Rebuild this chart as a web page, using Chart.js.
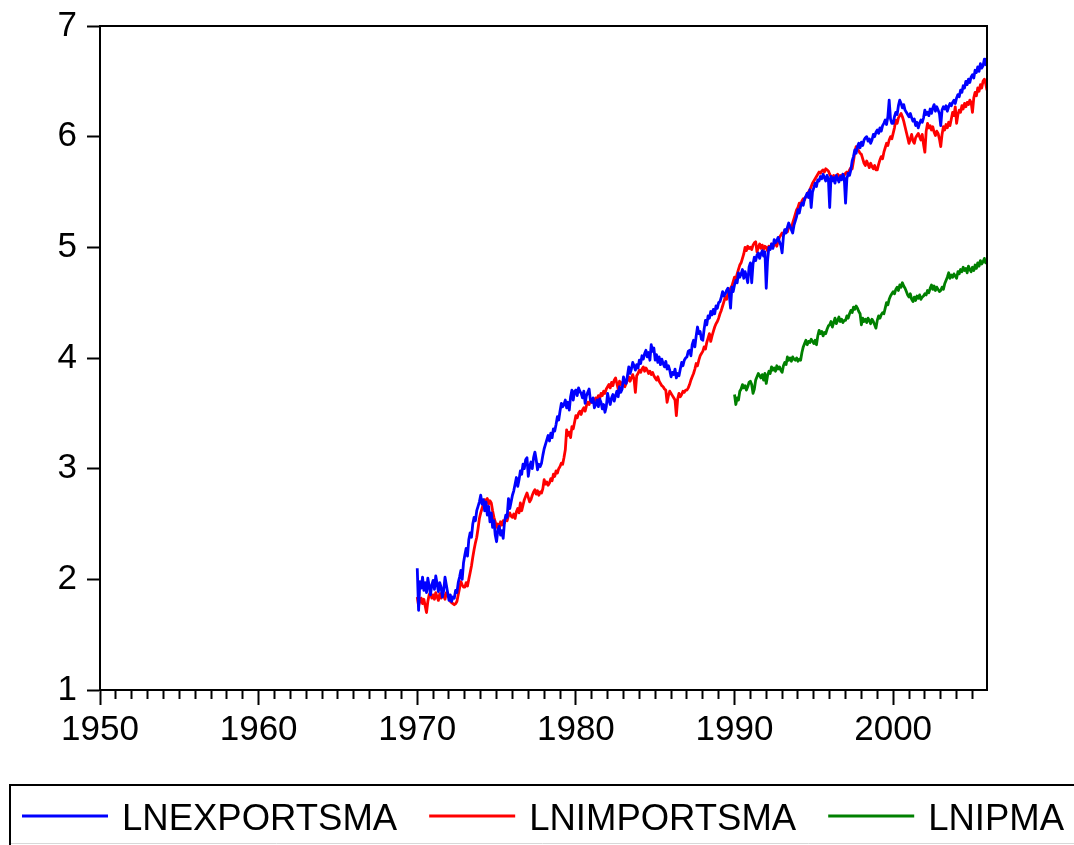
<!DOCTYPE html>
<html>
<head>
<meta charset="utf-8">
<title>LNEXPORTSMA, LNIMPORTSMA, LNIPMA</title>
<script src="https://cdn.jsdelivr.net/npm/chart.js@4"></script>
<style>
  html, body { margin: 0; padding: 0; background: #ffffff; }
  canvas { display: block; }
</style>
</head>
<body>
<canvas id="chart" width="1074" height="845"></canvas>
<script>
// Monthly log series; each array starts in January of its start year.
const exportsStart = 1970;
const importsStart = 1970;
const ipStart = 1990;

const lnExports = [
  2.10, 1.72, 1.98, 1.92, 2.02, 1.90, 1.97, 1.88, 2.01, 1.94, 1.86, 1.95, // 1970
  1.99, 1.91, 2.03, 1.96, 1.89, 1.97, 1.93, 1.84, 1.90, 2.02, 1.95, 1.88, // 1971
  1.81, 1.86, 1.80, 1.84, 1.83, 1.90, 1.88, 1.97, 2.02, 2.08, 2.00, 2.15, // 1972
  2.22, 2.28, 2.21, 2.36, 2.42, 2.38, 2.50, 2.56, 2.53, 2.62, 2.66, 2.70, // 1973
  2.76, 2.68, 2.72, 2.62, 2.70, 2.58, 2.66, 2.52, 2.60, 2.47, 2.53, 2.40, // 1974
  2.34, 2.45, 2.48, 2.40, 2.44, 2.37, 2.52, 2.58, 2.56, 2.73, 2.64, 2.70, // 1975
  2.76, 2.80, 2.86, 2.92, 2.84, 2.90, 2.98, 2.95, 3.04, 3.00, 3.08, 3.10, // 1976
  2.93, 3.02, 3.06, 3.00, 3.10, 3.15, 3.08, 2.99, 3.04, 3.02, 3.05, 3.12, // 1977
  3.18, 3.22, 3.26, 3.30, 3.25, 3.32, 3.28, 3.36, 3.34, 3.40, 3.47, 3.44, // 1978
  3.52, 3.59, 3.56, 3.58, 3.62, 3.55, 3.60, 3.53, 3.65, 3.71, 3.62, 3.70, // 1979
  3.71, 3.66, 3.73, 3.70, 3.68, 3.64, 3.70, 3.59, 3.66, 3.69, 3.72, 3.62, // 1980
  3.60, 3.64, 3.55, 3.58, 3.62, 3.56, 3.63, 3.60, 3.54, 3.58, 3.51, 3.56, // 1981
  3.68, 3.62, 3.58, 3.64, 3.67, 3.61, 3.66, 3.70, 3.65, 3.74, 3.69, 3.72, // 1982
  3.83, 3.78, 3.77, 3.84, 3.92, 3.86, 3.90, 3.96, 3.93, 3.89, 3.94, 3.91, // 1983
  3.98, 3.95, 4.02, 3.99, 4.04, 4.07, 4.01, 4.05, 3.98, 4.12, 4.06, 4.09, // 1984
  3.98, 4.03, 3.96, 4.01, 3.94, 3.99, 3.95, 3.92, 3.97, 3.90, 3.93, 3.89, // 1985
  3.83, 3.87, 3.85, 3.90, 3.82, 3.86, 3.84, 3.90, 3.96, 3.93, 3.98, 4.00, // 1986
  4.01, 4.06, 4.07, 4.02, 4.12, 4.16, 4.10, 4.20, 4.28, 4.22, 4.24, 4.17, // 1987
  4.16, 4.26, 4.34, 4.30, 4.38, 4.36, 4.42, 4.39, 4.44, 4.40, 4.47, 4.45, // 1988
  4.50, 4.51, 4.55, 4.60, 4.56, 4.58, 4.61, 4.63, 4.58, 4.45, 4.64, 4.60, // 1989
  4.66, 4.70, 4.68, 4.77, 4.73, 4.76, 4.80, 4.72, 4.78, 4.74, 4.68, 4.82, // 1990
  4.86, 4.68, 4.85, 4.91, 4.88, 4.93, 4.95, 4.90, 4.94, 4.97, 4.92, 4.96, // 1991
  4.63, 4.88, 5.00, 4.98, 5.03, 4.99, 5.07, 5.04, 5.06, 5.09, 5.05, 5.02, // 1992
  4.95, 5.10, 5.16, 5.13, 5.18, 5.22, 5.19, 5.16, 5.13, 5.20, 5.24, 5.28, // 1993
  5.34, 5.31, 5.37, 5.40, 5.38, 5.44, 5.46, 5.49, 5.45, 5.52, 5.36, 5.50, // 1994
  5.54, 5.58, 5.55, 5.61, 5.60, 5.64, 5.62, 5.66, 5.63, 5.60, 5.65, 5.62, // 1995
  5.36, 5.64, 5.60, 5.63, 5.58, 5.65, 5.62, 5.59, 5.64, 5.61, 5.66, 5.63, // 1996
  5.40, 5.62, 5.67, 5.65, 5.70, 5.78, 5.82, 5.88, 5.85, 5.91, 5.94, 5.90, // 1997
  5.95, 5.92, 5.97, 5.99, 6.00, 5.96, 5.98, 5.94, 5.97, 6.02, 6.00, 6.04, // 1998
  6.06, 6.03, 6.08, 6.05, 6.10, 6.12, 6.15, 6.11, 6.18, 6.33, 6.16, 6.12, // 1999
  6.12, 6.18, 6.22, 6.20, 6.28, 6.33, 6.30, 6.26, 6.29, 6.24, 6.22, 6.20, // 2000
  6.18, 6.21, 6.17, 6.14, 6.16, 6.10, 6.13, 6.08, 6.12, 6.15, 6.13, 6.17, // 2001
  6.24, 6.20, 6.22, 6.19, 6.25, 6.21, 6.26, 6.29, 6.23, 6.27, 6.24, 6.21, // 2002
  6.10, 6.24, 6.27, 6.25, 6.28, 6.23, 6.27, 6.30, 6.28, 6.31, 6.33, 6.30, // 2003
  6.35, 6.38, 6.36, 6.42, 6.40, 6.46, 6.44, 6.50, 6.47, 6.52, 6.49, 6.54, // 2004
  6.56, 6.53, 6.60, 6.58, 6.63, 6.59, 6.66, 6.62, 6.64, 6.70, 6.65, 6.71  // 2005
];

const lnImports = [
  1.84, 1.76, 1.80, 1.83, 1.78, 1.82, 1.76, 1.70, 1.80, 1.86, 1.88, 1.83, // 1970
  1.86, 1.82, 1.88, 1.84, 1.81, 1.87, 1.83, 1.89, 1.85, 1.82, 1.88, 1.85, // 1971
  1.84, 1.80, 1.79, 1.78, 1.77, 1.78, 1.80, 1.86, 1.92, 1.98, 1.95, 1.93, // 1972
  1.93, 1.97, 1.94, 2.00, 2.06, 2.12, 2.20, 2.27, 2.33, 2.38, 2.46, 2.55, // 1973
  2.60, 2.64, 2.68, 2.72, 2.70, 2.73, 2.68, 2.71, 2.69, 2.62, 2.56, 2.52, // 1974
  2.47, 2.50, 2.46, 2.52, 2.49, 2.53, 2.51, 2.55, 2.53, 2.58, 2.60, 2.57, // 1975
  2.56, 2.59, 2.55, 2.61, 2.64, 2.60, 2.69, 2.62, 2.67, 2.72, 2.75, 2.78, // 1976
  2.74, 2.70, 2.72, 2.76, 2.79, 2.81, 2.77, 2.80, 2.76, 2.79, 2.78, 2.82, // 1977
  2.90, 2.86, 2.88, 2.85, 2.87, 2.91, 2.89, 2.95, 2.93, 2.98, 2.96, 3.00, // 1978
  3.02, 3.05, 3.04, 3.10, 3.17, 3.35, 3.30, 3.33, 3.28, 3.38, 3.36, 3.42, // 1979
  3.48, 3.46, 3.50, 3.52, 3.49, 3.53, 3.55, 3.52, 3.57, 3.60, 3.58, 3.62, // 1980
  3.60, 3.63, 3.61, 3.64, 3.62, 3.66, 3.63, 3.68, 3.66, 3.70, 3.68, 3.72, // 1981
  3.74, 3.76, 3.73, 3.78, 3.75, 3.80, 3.82, 3.77, 3.72, 3.79, 3.76, 3.78, // 1982
  3.75, 3.74, 3.77, 3.80, 3.83, 3.79, 3.82, 3.85, 3.81, 3.69, 3.84, 3.86, // 1983
  3.89, 3.87, 3.90, 3.92, 3.88, 3.91, 3.89, 3.86, 3.88, 3.85, 3.87, 3.84, // 1984
  3.82, 3.80, 3.83, 3.79, 3.77, 3.75, 3.74, 3.72, 3.71, 3.60, 3.66, 3.70, // 1985
  3.68, 3.66, 3.64, 3.62, 3.48, 3.63, 3.68, 3.65, 3.67, 3.70, 3.69, 3.71, // 1986
  3.71, 3.73, 3.76, 3.80, 3.83, 3.86, 3.90, 3.95, 3.93, 3.98, 4.02, 4.04, // 1987
  4.06, 4.10, 4.08, 4.14, 4.18, 4.22, 4.15, 4.20, 4.24, 4.28, 4.31, 4.33, // 1988
  4.36, 4.40, 4.43, 4.47, 4.51, 4.55, 4.53, 4.58, 4.60, 4.63, 4.65, 4.69, // 1989
  4.73, 4.71, 4.76, 4.80, 4.84, 4.86, 4.90, 4.94, 5.00, 4.97, 5.01, 4.99, // 1990
  5.00, 4.98, 5.02, 5.04, 5.05, 4.96, 5.00, 5.03, 4.99, 5.02, 4.98, 5.01, // 1991
  5.00, 4.97, 5.01, 4.99, 5.03, 5.00, 5.02, 5.04, 5.01, 5.06, 5.09, 5.11, // 1992
  5.13, 5.12, 5.15, 5.16, 5.14, 5.18, 5.19, 5.17, 5.22, 5.26, 5.30, 5.34, // 1993
  5.36, 5.40, 5.38, 5.42, 5.44, 5.43, 5.46, 5.48, 5.50, 5.52, 5.55, 5.58, // 1994
  5.60, 5.62, 5.64, 5.66, 5.68, 5.67, 5.69, 5.70, 5.68, 5.71, 5.70, 5.69, // 1995
  5.66, 5.64, 5.63, 5.65, 5.62, 5.64, 5.66, 5.63, 5.65, 5.64, 5.66, 5.65, // 1996
  5.67, 5.68, 5.66, 5.70, 5.72, 5.71, 5.78, 5.86, 5.91, 5.89, 5.87, 5.85, // 1997
  5.84, 5.80, 5.76, 5.74, 5.78, 5.75, 5.72, 5.76, 5.73, 5.71, 5.74, 5.70, // 1998
  5.70, 5.75, 5.79, 5.82, 5.80, 5.86, 5.90, 5.94, 5.92, 5.97, 6.00, 5.98, // 1999
  6.03, 6.08, 6.15, 6.12, 6.17, 6.19, 6.21, 6.18, 6.14, 6.09, 6.04, 5.99, // 2000
  5.94, 5.98, 6.02, 5.96, 5.94, 5.99, 6.01, 6.03, 6.00, 5.97, 6.02, 5.93, // 2001
  5.86, 6.05, 6.12, 6.08, 6.10, 6.06, 6.09, 6.04, 6.01, 6.05, 6.03, 5.98, // 2002
  5.91, 6.02, 6.09, 6.06, 6.11, 6.08, 6.13, 6.10, 6.16, 6.22, 6.19, 6.27, // 2003
  6.12, 6.20, 6.24, 6.22, 6.28, 6.25, 6.30, 6.27, 6.31, 6.29, 6.33, 6.31, // 2004
  6.22, 6.35, 6.40, 6.37, 6.44, 6.41, 6.47, 6.44, 6.50, 6.52, 6.48, 6.42  // 2005
];

const lnIp = [
  3.67, 3.58, 3.64, 3.62, 3.70, 3.72, 3.76, 3.73, 3.75, 3.71, 3.74, 3.78, // 1990
  3.79, 3.76, 3.68, 3.72, 3.80, 3.83, 3.86, 3.84, 3.82, 3.85, 3.80, 3.86, // 1991
  3.77, 3.84, 3.88, 3.86, 3.92, 3.89, 3.91, 3.88, 3.93, 3.90, 3.92, 3.89, // 1992
  3.87, 3.93, 3.96, 3.94, 4.01, 3.98, 4.00, 3.97, 4.01, 3.99, 3.98, 4.00, // 1993
  3.97, 3.99, 3.98, 4.05, 4.10, 4.13, 4.16, 4.12, 4.15, 4.14, 4.17, 4.15, // 1994
  4.13, 4.16, 4.12, 4.20, 4.25, 4.22, 4.24, 4.20, 4.23, 4.22, 4.26, 4.29, // 1995
  4.30, 4.33, 4.28, 4.32, 4.36, 4.31, 4.34, 4.37, 4.33, 4.35, 4.32, 4.34, // 1996
  4.34, 4.38, 4.36, 4.40, 4.43, 4.41, 4.46, 4.44, 4.47, 4.45, 4.42, 4.40, // 1997
  4.30, 4.36, 4.33, 4.35, 4.32, 4.36, 4.34, 4.31, 4.35, 4.33, 4.30, 4.27, // 1998
  4.34, 4.38, 4.36, 4.39, 4.41, 4.40, 4.45, 4.50, 4.48, 4.53, 4.56, 4.58, // 1999
  4.60, 4.58, 4.62, 4.64, 4.61, 4.66, 4.64, 4.68, 4.65, 4.63, 4.60, 4.57, // 2000
  4.55, 4.58, 4.53, 4.51, 4.55, 4.52, 4.56, 4.54, 4.57, 4.53, 4.55, 4.56, // 2001
  4.58, 4.57, 4.61, 4.59, 4.63, 4.66, 4.62, 4.65, 4.61, 4.64, 4.62, 4.60, // 2002
  4.61, 4.64, 4.62, 4.67, 4.70, 4.73, 4.77, 4.72, 4.75, 4.73, 4.76, 4.74, // 2003
  4.72, 4.78, 4.76, 4.80, 4.78, 4.82, 4.79, 4.81, 4.77, 4.83, 4.80, 4.78, // 2004
  4.82, 4.79, 4.84, 4.81, 4.86, 4.83, 4.88, 4.85, 4.87, 4.90, 4.86, 4.88  // 2005
];

const seriesNames = ['LNEXPORTSMA', 'LNIMPORTSMA', 'LNIPMA'];
const seriesColors = ['#0000ff', '#ff0000', '#008000'];

// Axis range: sample runs 1950M01..2005M12, values from 1 to 7
const xMin = 1950;
const xMax = 2005 + 11 / 12;
const yMin = 1;
const yMax = 7;
const labelledYears = [1950, 1960, 1970, 1980, 1990, 2000];

function monthly(startYear, values) {
  return values.map((v, i) => ({ x: startYear + i / 12, y: v }));
}

const FONT = '"Liberation Sans", Arial, Helvetica, sans-serif';

// Closes the plot frame on the top and right sides
const frame = {
  id: 'frame',
  afterDraw(chart) {
    const { ctx, chartArea: a } = chart;
    ctx.save();
    ctx.strokeStyle = '#000000';
    ctx.lineWidth = 2;
    ctx.strokeRect(a.left, a.top, a.right - a.left, a.bottom - a.top);
    ctx.restore();
  }
};

// Boxed legend row under the chart
const boxedLegend = {
  id: 'boxedLegend',
  afterDraw(chart) {
    const ctx = chart.ctx;
    ctx.save();
    ctx.strokeStyle = '#000000';
    ctx.lineWidth = 2;
    ctx.beginPath();
    ctx.moveTo(10, 846);
    ctx.lineTo(10, 785);
    ctx.lineTo(1080, 785);
    ctx.stroke();
    ctx.strokeStyle = '#d8d8d8';
    ctx.lineWidth = 1;
    ctx.beginPath();
    ctx.moveTo(11, 843.5);
    ctx.lineTo(1074, 843.5);
    ctx.stroke();

    ctx.font = '36.5px ' + FONT;
    ctx.fillStyle = '#000000';
    ctx.textBaseline = 'alphabetic';
    let x = 22;
    chart.data.datasets.forEach(ds => {
      ctx.strokeStyle = ds.borderColor;
      ctx.lineWidth = 3;
      ctx.beginPath();
      ctx.moveTo(x, 816);
      ctx.lineTo(x + 86, 816);
      ctx.stroke();
      ctx.fillText(ds.label, x + 100, 830);
      x += 100 + ctx.measureText(ds.label).width + 32;
    });
    ctx.restore();
  }
};

new Chart(document.getElementById('chart'), {
  type: 'line',
  data: {
    datasets: [
      { label: seriesNames[0], data: monthly(exportsStart, lnExports), borderColor: seriesColors[0] },
      { label: seriesNames[1], data: monthly(importsStart, lnImports), borderColor: seriesColors[1] },
      { label: seriesNames[2], data: monthly(ipStart, lnIp), borderColor: seriesColors[2] }
    ]
  },
  options: {
    responsive: false,
    animation: false,
    parsing: false,
    elements: {
      line: { borderWidth: 2.8, tension: 0, fill: false, borderJoinStyle: 'round' },
      point: { radius: 0, hoverRadius: 0 }
    },
    layout: { padding: { top: 26, right: 87, left: 0, bottom: 0 } },
    plugins: {
      legend: { display: false },
      tooltip: { enabled: false }
    },
    scales: {
      x: {
        type: 'linear',
        min: xMin,
        max: xMax,
        afterFit(scale) {
          scale.height = 155;
          scale.paddingLeft = 0;
          scale.paddingRight = 0;
        },
        border: { display: true, color: '#000000', width: 2 },
        grid: {
          drawOnChartArea: false,
          drawTicks: true,
          tickLength: 15,
          tickWidth: 2,
          tickColor: '#000000',
          // yearly minor ticks are shorter than the decade ticks
          tickBorderDash: ctx => (labelledYears.includes(ctx.tick && ctx.tick.value) ? [] : [8, 40])
        },
        ticks: {
          stepSize: 1,
          autoSkip: false,
          includeBounds: false,
          maxRotation: 0,
          padding: 4,
          color: '#000000',
          font: { family: FONT, size: 35 },
          callback: v => (labelledYears.includes(v) ? String(v) : '')
        }
      },
      y: {
        type: 'linear',
        min: yMin,
        max: yMax,
        afterFit(scale) {
          scale.width = 100;
          scale.paddingTop = 0;
          scale.paddingBottom = 0;
        },
        border: { display: true, color: '#000000', width: 2 },
        grid: {
          drawOnChartArea: false,
          drawTicks: true,
          tickLength: 13,
          tickWidth: 2,
          tickColor: '#000000'
        },
        ticks: {
          stepSize: 1,
          padding: 10,
          color: '#000000',
          font: { family: FONT, size: 35 }
        }
      }
    }
  },
  plugins: [frame, boxedLegend]
});
</script>
</body>
</html>
